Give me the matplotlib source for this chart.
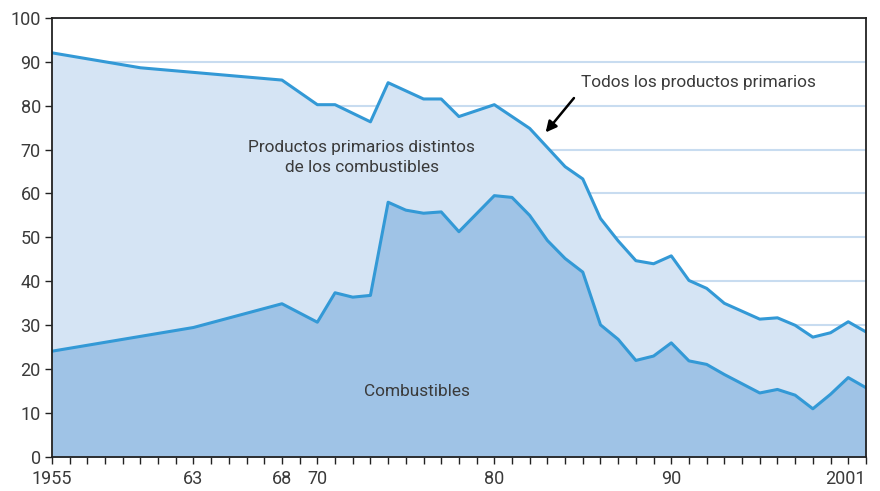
import matplotlib
matplotlib.use("Agg")
import matplotlib.pyplot as plt
from matplotlib.ticker import MultipleLocator, FixedLocator

# -----------------------------------------
# Data
# -----------------------------------------
total_years = [1955, 1960, 1968, 1970, 1971, 1973, 1974, 1976, 1977, 1978,
               1980, 1982, 1984, 1985, 1986, 1987, 1988, 1989, 1990, 1991,
               1992, 1993, 1995, 1996, 1997, 1998, 1999, 2000, 2001]
total_share = [92.0, 88.6, 85.8, 80.2, 80.2, 76.3, 85.2, 81.5, 81.5, 77.5,
               80.2, 74.8, 66.1, 63.3, 54.3, 49.2, 44.7, 44.0, 45.8, 40.2,
               38.4, 35.0, 31.4, 31.7, 30.0, 27.3, 28.3, 30.8, 28.5]

fuel_years = [1955, 1963, 1968, 1970, 1971, 1972, 1973, 1974, 1975, 1976,
              1977, 1978, 1980, 1981, 1982, 1983, 1984, 1985, 1986, 1987,
              1988, 1989, 1990, 1991, 1992, 1993, 1995, 1996, 1997, 1998,
              1999, 2000, 2001]
fuel_share = [24.1, 29.5, 34.9, 30.7, 37.4, 36.4, 36.8, 58.0, 56.2, 55.5,
              55.8, 51.3, 59.5, 59.1, 55.0, 49.3, 45.2, 42.1, 30.1, 26.8,
              22.0, 23.0, 26.0, 21.9, 21.1, 18.8, 14.6, 15.4, 14.1, 11.0,
              14.3, 18.1, 15.8]

xtick_pos = [1955, 1963, 1968, 1970, 1980, 1990, 2001]
xtick_lab = ["1955", "63", "68", "70", "80", "90", "2001"]

# -----------------------------------------
# Style
# -----------------------------------------
plt.rcParams["font.family"] = ["Roboto", "DejaVu Sans"]
text_col = "#3a3a3a"
line_col = "#3399d6"
light_fill = "#d5e4f4"
dark_fill = "#9fc3e6"
grid_col = "#c8dcf0"

fig = plt.figure(figsize=(8.8, 4.91), dpi=100)
ax = fig.add_axes([0.059, 0.069, 0.925, 0.895])

ax.fill_between(total_years, total_share, 0, color=light_fill, lw=0, zorder=2)
ax.fill_between(fuel_years, fuel_share, 0, color=dark_fill, lw=0, zorder=3)
ax.plot(total_years, total_share, color=line_col, lw=2.2, zorder=4)
ax.plot(fuel_years, fuel_share, color=line_col, lw=2.2, zorder=4)

ax.set_xlim(1955, 2001)
ax.set_ylim(0, 100)

ax.yaxis.set_major_locator(MultipleLocator(10))
ax.grid(axis="y", color=grid_col, lw=1.5, zorder=1)
ax.set_axisbelow(True)

ax.xaxis.set_major_locator(FixedLocator(xtick_pos))
ax.set_xticklabels(xtick_lab)
ax.xaxis.set_minor_locator(MultipleLocator(1))
ax.tick_params(axis="both", which="both", direction="out", length=5,
               width=1, color="#222222", labelsize=13, labelcolor=text_col)
ax.tick_params(axis="x", pad=4)
ax.tick_params(axis="y", pad=3)
ax.get_xticklabels()[-1].set_horizontalalignment("right")
ax.get_xticklabels()[-1].set_x(2001.2)

for s in ax.spines.values():
    s.set_color("#222222")
    s.set_linewidth(1.3)
    s.set_zorder(5)

# Labels
ax.text(1972.5, 68.2, "Productos primarios distintos\nde los combustibles",
        ha="center", va="center", fontsize=12.4, color=text_col,
        linespacing=1.45, zorder=6)
ax.text(1975.6, 15.0, "Combustibles", ha="center", va="center",
        fontsize=12.4, color=text_col, zorder=6)
ax.text(1984.9, 85.2, "Todos los productos primarios", ha="left",
        va="center", fontsize=12.4, color=text_col, zorder=6)
ax.annotate("", xy=(1982.8, 73.4), xytext=(1984.6, 82.2),
            arrowprops=dict(arrowstyle="-|>", color="black", lw=1.8,
                            mutation_scale=16), zorder=6)

fig.savefig("out.png", dpi=100)
